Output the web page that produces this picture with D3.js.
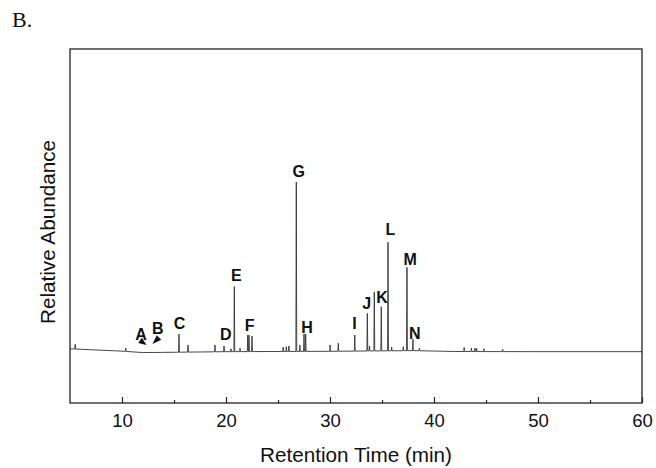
<!DOCTYPE html>
<html lang="en">
<head>
    <meta charset="UTF-8">
    <title>Chromatogram B</title>
    <script src="https://d3js.org/d3.v7.min.js"></script>
    <style>
        body { margin: 0; background: #fff; }
        svg { display: block; font-family: "Liberation Sans", Arial, sans-serif; }
    </style>
</head>
<body>
    <div id="chart"></div>

    <script>
        // axis ticks (min)
        const majorTicks = [10, 20, 30, 40, 50, 60];
        const minorTicks = [15, 25, 35, 45, 55];

        // baseline drift of the trace
        const baselineTimes  = [5, 7, 10, 12, 14, 20, 30, 38, 42, 50, 60];
        const baselineValues = [0.8, 0.55, 0.15, -0.25, -0.2, 0, 0.1, 0.3, 0.05, 0, 0];

        // peaks: retention time and apex abundance
        const peakTimes = [5.5, 10.36, 15.48, 16.35, 18.94, 19.81, 20.48, 20.8, 21.35,
            22.09, 22.21, 22.5, 25.5, 25.8, 26.05, 26.76, 27.1, 27.5, 27.66,
            30.0, 30.8, 32.38, 33.59, 33.8, 34.26, 34.93, 35.58, 35.93, 37.05,
            37.4, 37.98, 38.6, 42.9, 43.6, 43.94, 44.1, 44.8, 46.6];
        const peakHeights = [2.1, 1.0, 5.0, 1.9, 1.9, 1.6, 0.8, 18.4, 1.0,
            4.7, 4.7, 4.4, 1.3, 1.4, 1.6, 47.9, 1.9, 5.0, 5.0,
            1.9, 2.4, 4.7, 10.8, 1.6, 16.9, 12.7, 30.9, 1.3, 1.4,
            23.8, 3.5, 1.0, 1.2, 1.0, 1.0, 0.9, 0.85, 0.7];

        // peak labels (anchor = text baseline)
        const labelNames   = ["A", "B", "C", "D", "E", "F", "G", "H", "I", "J", "K", "L", "M", "N"];
        const labelTimes   = [11.84, 13.43, 15.53, 19.97, 21.0, 22.27, 27.0, 27.78, 32.35, 33.53, 35.01, 35.8, 37.7, 38.16];
        const labelHeights = [3.18, 4.99, 6.29, 3.18, 19.85, 5.84, 49.34, 5.16, 6.29, 12.14, 13.75, 32.84, 24.57, 3.66];

        // arrowheads under A and B: tail -> tip
        const arrowTailTimes  = [11.73, 13.56];
        const arrowTailValues = [3.16, 4.0];
        const arrowTipTimes   = [12.36, 12.93];
        const arrowTipValues  = [1.89, 2.18];

        const W = 656, H = 468;
        const plot = { left: 70, right: 642, top: 49, bottom: 403 };

        const svg = d3.select("#chart").append("svg")
            .attr("width", W)
            .attr("height", H);

        const x = d3.scaleLinear().domain([5, 60]).range([plot.left, plot.right]);
        const y = d3.scaleLinear().domain([-14.5, 85.5]).range([plot.bottom, plot.top]);
        const base = d3.scaleLinear().domain(baselineTimes).range(baselineValues);

        // build trace: baseline knots plus a narrow spike for each peak
        const w = 0.04;
        let pts = baselineTimes.map((t, i) => [t, baselineValues[i]]);
        peakTimes.forEach((t, i) => {
            pts.push([t - w, base(t - w)]);
            pts.push([t, peakHeights[i]]);
            pts.push([t + w, base(t + w)]);
        });
        pts.sort((a, b) => a[0] - b[0]);

        const line = d3.line().x(d => x(d[0])).y(d => y(d[1]));

        svg.append("path")
            .datum(pts)
            .attr("d", line)
            .attr("fill", "none")
            .attr("stroke", "#333")
            .attr("stroke-width", 0.9)
            .attr("stroke-linejoin", "round");

        // frame
        svg.append("rect")
            .attr("x", plot.left)
            .attr("y", plot.top)
            .attr("width", plot.right - plot.left)
            .attr("height", plot.bottom - plot.top)
            .attr("fill", "none")
            .attr("stroke", "#222")
            .attr("stroke-width", 1.3);

        // bottom axis, ticks point inward
        const xAxis = svg.append("g")
            .attr("transform", `translate(0,${plot.bottom})`)
            .call(d3.axisBottom(x).tickValues(majorTicks).tickSizeInner(-6).tickSizeOuter(0).tickPadding(11));
        xAxis.select(".domain").remove();
        xAxis.selectAll("line").attr("stroke", "#222").attr("stroke-width", 1.2);
        xAxis.selectAll("text")
            .attr("font-family", "'Liberation Sans', Arial, sans-serif")
            .attr("font-size", 18.5)
            .attr("fill", "#111");

        const xMinor = svg.append("g")
            .attr("transform", `translate(0,${plot.bottom})`)
            .call(d3.axisBottom(x).tickValues(minorTicks).tickSizeInner(-3).tickSizeOuter(0).tickFormat(""));
        xMinor.select(".domain").remove();
        xMinor.selectAll("line").attr("stroke", "#222").attr("stroke-width", 1.2);

        // peak labels
        svg.append("g")
            .selectAll("text")
            .data(labelNames)
            .join("text")
            .attr("x", (d, i) => x(labelTimes[i]))
            .attr("y", (d, i) => y(labelHeights[i]))
            .attr("text-anchor", "middle")
            .attr("font-size", 16)
            .attr("font-weight", "bold")
            .attr("fill", "#111")
            .text(d => d);

        // arrowheads
        svg.append("g")
            .selectAll("path")
            .data(arrowTipTimes)
            .join("path")
            .attr("d", (d, i) => {
                const tx = x(d), ty = y(arrowTipValues[i]);
                const sx = x(arrowTailTimes[i]), sy = y(arrowTailValues[i]);
                const dx = tx - sx, dy = ty - sy;
                const len = Math.hypot(dx, dy);
                const nx = -dy / len * 3.2, ny = dx / len * 3.2;
                return `M${tx},${ty}L${sx + nx},${sy + ny}L${sx - nx},${sy - ny}Z`;
            })
            .attr("fill", "#111");

        // axis titles
        svg.append("text")
            .attr("x", 356)
            .attr("y", 462)
            .attr("text-anchor", "middle")
            .attr("font-size", 20.7)
            .attr("fill", "#111")
            .text("Retention Time (min)");

        svg.append("text")
            .attr("transform", "translate(55,232) rotate(-90)")
            .attr("text-anchor", "middle")
            .attr("font-size", 20.7)
            .attr("fill", "#111")
            .text("Relative Abundance");

        // panel letter
        svg.append("text")
            .attr("x", 12)
            .attr("y", 27)
            .attr("font-family", "'Liberation Serif', 'Times New Roman', serif")
            .attr("font-size", 22)
            .attr("fill", "#111")
            .text("B.");
    </script>
</body>
</html>
